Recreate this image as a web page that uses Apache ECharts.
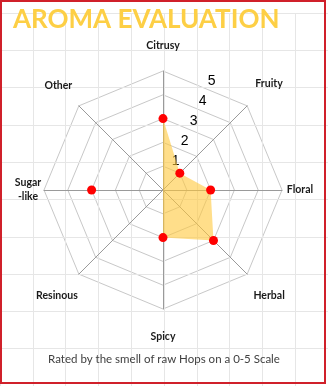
<!DOCTYPE html>
<html>
<head>
<meta charset="utf-8">
<script src="https://cdn.jsdelivr.net/npm/echarts@6/dist/echarts.min.js"></script>
<style>
html,body{margin:0;padding:0;background:#fff;}
#chart{width:328px;height:386px;}
</style>
</head>
<body>
<div id="chart"></div>
<script>
// ---- data ----
const categories = ['Citrusy', 'Fruity', 'Floral', 'Herbal', 'Spicy', 'Resinous', 'Sugar-like', 'Other'];
const displayNames = ['Citrusy', 'Fruity', 'Floral', 'Herbal', 'Spicy', 'Resinous', 'Sugar\n-like', 'Other'];
const values = [3, 1, 2, 3, 2, 0, 3, 0];
const tickLabels = ['1', '2', '3', '4', '5'];
const maxValue = 5;
const titleText = 'AROMA EVALUATION';
const subtitleText = 'Rated by the smell of raw Hops on a 0-5 Scale';

// ---- styles ----
const nameGaps = [25, 31, 18, 31, 28, 31, 16, 29];
const CENTER = [163, 190];
const RADIUS = 119;

// ECharts lays out radar indicators counter-clockwise; the reference is clockwise
const order = [0, 7, 6, 5, 4, 3, 2, 1];

const indicators = order.map(i => ({
  name: displayNames[i],
  max: maxValue,
  min: 0,
  nameGap: nameGaps[i]
}));
const seriesValues = order.map(i => values[i]);

// markers: zero values carry no marker in the reference
const markerData = values.map((v, i) => [v === 0 ? '-' : v, categories[i]]);

const labelIndicators = order.map((i, k) => {
  const o = { name: '', max: maxValue, min: 0 };
  if (k === 0) {
    o.axisLabel = {
      show: true,
      margin: 0,
      align: 'center',
      verticalAlign: 'middle',
      fontFamily: 'Liberation Sans',
      fontSize: 14,
      color: '#000',
      formatter: v => (v >= 1 && v <= tickLabels.length) ? tickLabels[v - 1] : ''
    };
  }
  return o;
});

const chart = echarts.init(document.getElementById('chart'), null, { renderer: 'canvas' });
chart.setOption({
  animation: false,
  backgroundColor: '#ffffff',
  title: [
    {
      text: titleText,
      left: 8,
      top: 2,
      textStyle: { fontFamily: 'Lato', fontWeight: 'bold', fontSize: 26, color: '#FDCF45' }
    },
    {
      text: subtitleText,
      left: 'center',
      top: 348,
      textStyle: { fontFamily: 'Lato', fontWeight: 'normal', fontSize: 11.5, color: '#404040' }
    }
  ],
  grid: { left: -17, top: 13, width: 400, height: 400, show: false },
  xAxis: {
    type: 'value', min: 0, max: 400, interval: 40,
    axisLine: { show: false }, axisTick: { show: false }, axisLabel: { show: false },
    splitLine: { show: true, lineStyle: { color: '#E6E6E6', width: 1 } }
  },
  yAxis: {
    type: 'value', min: 0, max: 400, interval: 40,
    axisLine: { show: false }, axisTick: { show: false }, axisLabel: { show: false },
    splitLine: { show: true, lineStyle: { color: '#E6E6E6', width: 1 } }
  },
  polar: { center: CENTER, radius: RADIUS },
  angleAxis: {
    type: 'category', data: categories, startAngle: 90, clockwise: true, boundaryGap: false,
    show: false
  },
  radiusAxis: { type: 'value', min: 0, max: maxValue, show: false },
  radar: [
    {
      center: CENTER,
      radius: RADIUS,
      startAngle: 90,
      shape: 'polygon',
      splitNumber: 5,
      indicator: indicators,
      axisName: {
        color: '#1a1a1a',
        fontFamily: 'Lato',
        fontWeight: 'bold',
        fontSize: 10.5,
        lineHeight: 14,
        align: 'center',
        verticalAlign: 'middle'
      },
      axisLine: { show: true, lineStyle: { color: '#9a9a9a', width: 1 } },
      splitLine: { show: true, lineStyle: { color: '#C8C8C8', width: 1 } },
      splitArea: { show: false },
      axisTick: { show: false },
      axisLabel: { show: false }
    },
    {
      center: [166.7, 181.6],
      radius: 110.5,
      startAngle: 66,
      shape: 'polygon',
      splitNumber: 5,
      indicator: labelIndicators,
      axisName: { show: false },
      axisLine: { show: false },
      splitLine: { show: false },
      splitArea: { show: false },
      axisTick: { show: false },
      axisLabel: { show: false }
    }
  ],
  series: [
    {
      type: 'radar',
      radarIndex: 0,
      symbol: 'none',
      lineStyle: { width: 0, opacity: 0 },
      areaStyle: { color: '#FFC83C', opacity: 0.6 },
      data: [{ value: seriesValues, name: 'Aroma' }],
      z: 3
    },
    {
      type: 'scatter',
      coordinateSystem: 'polar',
      symbol: 'circle',
      symbolSize: 9,
      itemStyle: { color: '#FF0000', opacity: 1 },
      data: markerData,
      z: 4
    }
  ],
  graphic: [
    {
      type: 'rect',
      shape: { x: 1, y: 1, width: 324, height: 382 },
      style: { fill: 'none', stroke: '#D0202A', lineWidth: 2 },
      z: 100
    }
  ]
});
</script>
</body>
</html>
